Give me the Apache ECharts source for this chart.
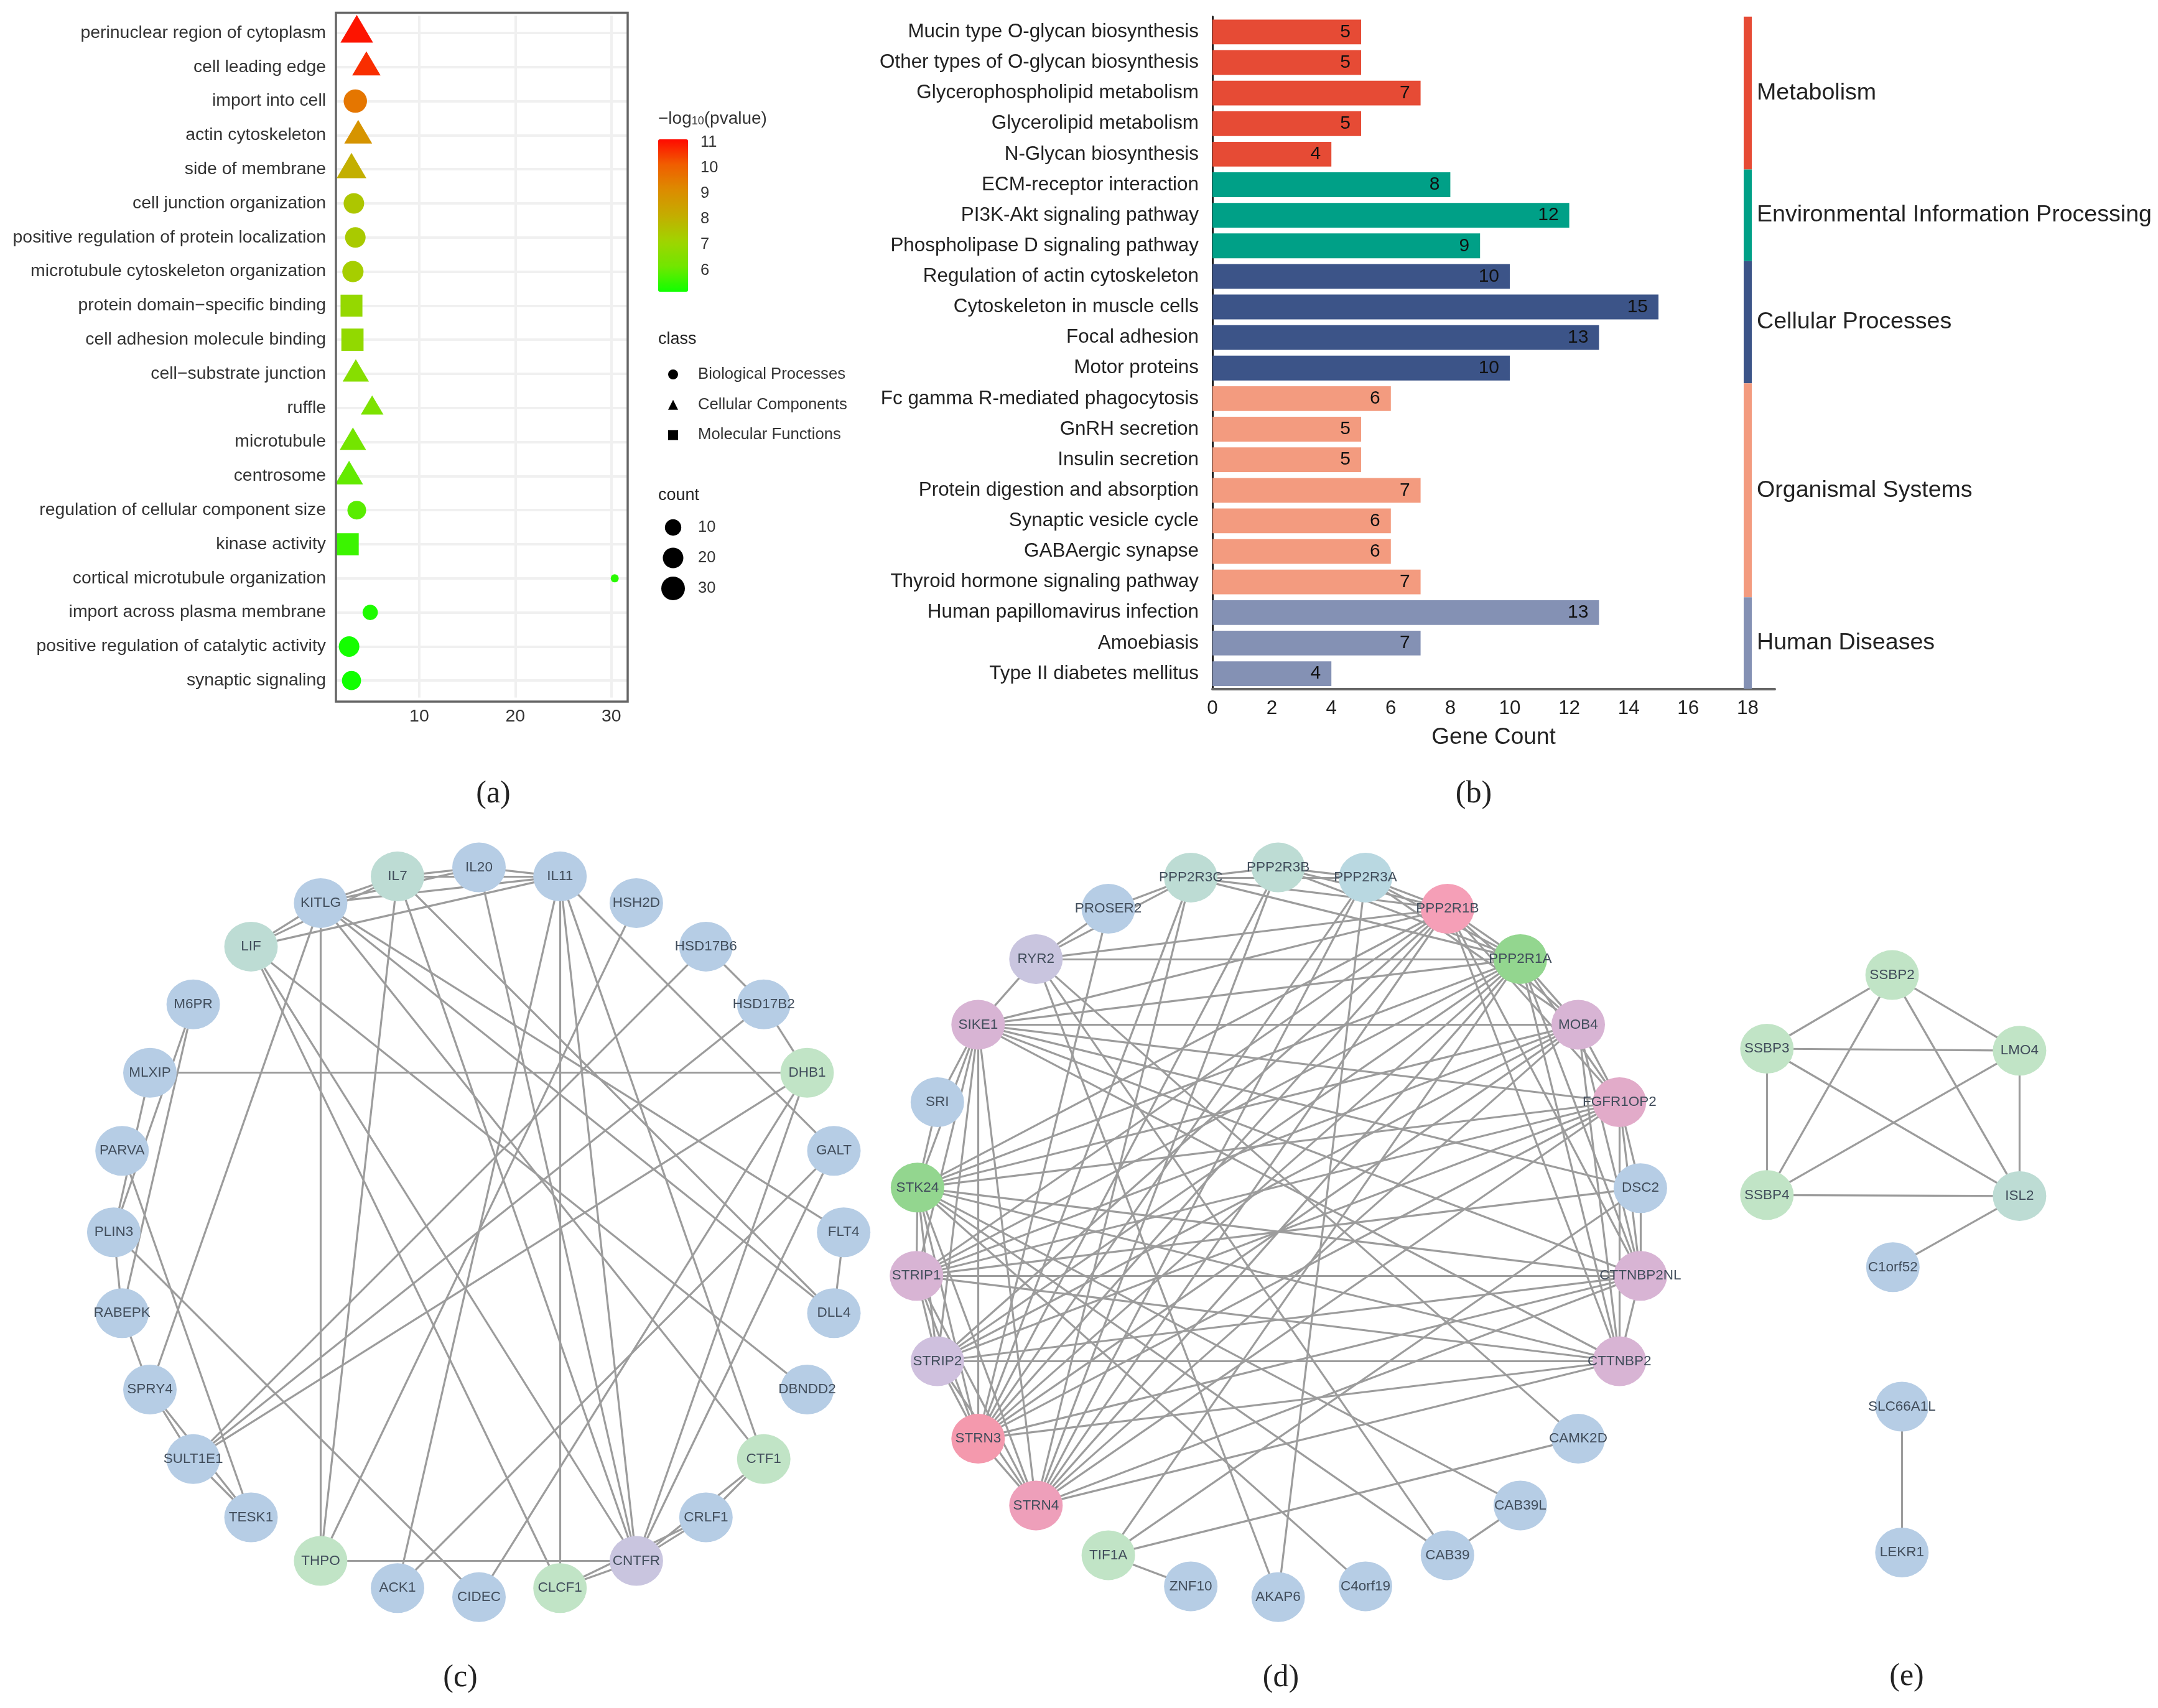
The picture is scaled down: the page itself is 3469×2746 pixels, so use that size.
<!DOCTYPE html>
<html><head><meta charset="utf-8">
<style>html,body{margin:0;padding:0;background:#fff}#c{width:3469px;height:2746px}</style>
<script src="https://cdn.jsdelivr.net/npm/echarts@6/dist/echarts.min.js"></script>
</head><body><div id="c"></div>
<script>
// ---------- panel (a) data ----------
const aTerms = ["perinuclear region of cytoplasm","cell leading edge","import into cell","actin cytoskeleton","side of membrane","cell junction organization","positive regulation of protein localization","microtubule cytoskeleton organization","protein domain\u2212specific binding","cell adhesion molecule binding","cell\u2212substrate junction","ruffle","microtubule","centrosome","regulation of cellular component size","kinase activity","cortical microtubule organization","import across plasma membrane","positive regulation of catalytic activity","synaptic signaling"];
const aClass = ["C","C","B","C","C","B","B","B","M","M","C","C","C","C","B","M","B","B","B","B"];
const aX = [3.5,4.5,3.35,3.65,2.95,3.2,3.35,3.1,2.95,3.05,3.4,5.1,3.1,2.7,3.5,2.55,30.35,4.9,2.7,2.95];
const aP = [11,10.7,9.6,8.9,8.1,7.5,7.4,7.3,6.9,6.85,6.6,6.4,6.2,6.0,5.9,5.6,5.4,5.3,5.2,5.16];
const aCount = [30,20,29,19,23,20,20,22,24,25,16,10,16,19,15,25,2,8,20,16];
const aCountLegend = [10,20,30];
const aXTicks = [10,20,30];
const aPTicks = [6,7,8,9,10,11];
// ---------- panel (b) data ----------
const bTerms = ["Mucin type O-glycan biosynthesis","Other types of O-glycan biosynthesis","Glycerophospholipid metabolism","Glycerolipid metabolism","N-Glycan biosynthesis","ECM-receptor interaction","PI3K-Akt signaling pathway","Phospholipase D signaling pathway","Regulation of actin cytoskeleton","Cytoskeleton in muscle cells","Focal adhesion","Motor proteins","Fc gamma R-mediated phagocytosis","GnRH secretion","Insulin secretion","Protein digestion and absorption","Synaptic vesicle cycle","GABAergic synapse","Thyroid hormone signaling pathway","Human papillomavirus infection","Amoebiasis","Type II diabetes mellitus"];
const bValues = [5,5,7,5,4,8,12,9,10,15,13,10,6,5,5,7,6,6,7,13,7,4];
const bGroups = ["Metabolism","Environmental Information Processing","Cellular Processes","Organismal Systems","Human Diseases"];
const bGroupSizes = [5,3,4,7,3];
const bXTicks = [0,2,4,6,8,10,12,14,16,18];
// ---------- network panels: node names, layout coordinates, colour group, edges ----------
const cNames = ["KITLG","IL7","IL20","IL11","HSH2D","HSD17B6","HSD17B2","DHB1","GALT","FLT4","DLL4","DBNDD2","CTF1","CRLF1","CNTFR","CLCF1","CIDEC","ACK1","THPO","TESK1","SULT1E1","SPRY4","RABEPK","PLIN3","PARVA","MLXIP","M6PR","LIF"];
const cX = [515.4,639,770,900.2,1022.9,1134.8,1227.7,1297.4,1340.5,1356.2,1340.5,1297.4,1227.7,1134.8,1022.9,900.2,770,639,515.4,403.5,310.6,241,196.2,182.9,196.2,241,310.6,403.5];
const cY = [1451.9,1409.1,1394.6,1409.1,1451.9,1521.9,1614.7,1724.7,1850.2,1981.2,2111.2,2234,2345.8,2439.5,2509.5,2553.2,2567.7,2553.2,2509.5,2439.5,2345.8,2234,2111.2,1981.2,1850.2,1724.7,1614.7,1521.9];
const cKind = ["blue","teal","blue","blue","blue","blue","blue","green","blue","blue","blue","blue","green","blue","lilac","green","blue","blue","green","blue","blue","blue","blue","blue","blue","blue","blue","teal"];
const cEdges = ["KITLG-IL7","KITLG-IL20","KITLG-IL11","LIF-KITLG","LIF-IL7","LIF-IL11","IL7-IL20","IL7-IL11","IL20-IL11","KITLG-THPO","IL7-THPO","KITLG-SPRY4","KITLG-FLT4","KITLG-DLL4","KITLG-CTF1","IL7-DLL4","IL7-CNTFR","IL20-CNTFR","IL11-CNTFR","IL11-CLCF1","IL11-ACK1","IL11-CTF1","IL11-GALT","LIF-CNTFR","LIF-CLCF1","LIF-DBNDD2","HSH2D-THPO","HSD17B6-SULT1E1","HSD17B6-HSD17B2","HSD17B2-DHB1","HSD17B2-SULT1E1","DHB1-SULT1E1","DHB1-MLXIP","DHB1-CNTFR","DHB1-CIDEC","GALT-CNTFR","GALT-ACK1","FLT4-DLL4","CTF1-CRLF1","CTF1-CNTFR","CRLF1-CNTFR","CLCF1-CNTFR","THPO-CNTFR","CLCF1-CRLF1","M6PR-PLIN3","M6PR-RABEPK","PARVA-TESK1","PLIN3-CIDEC","PLIN3-RABEPK","RABEPK-SPRY4","SPRY4-SULT1E1","SPRY4-TESK1","SULT1E1-TESK1","MLXIP-PLIN3"];
const dNames = ["PPP2R3B","PPP2R3A","PPP2R1B","PPP2R1A","MOB4","FGFR1OP2","DSC2","CTTNBP2NL","CTTNBP2","CAMK2D","CAB39L","CAB39","C4orf19","AKAP6","ZNF10","TIF1A","STRN4","STRN3","STRIP2","STRIP1","STK24","SRI","SIKE1","RYR2","PROSER2","PPP2R3C"];
const dX = [2054.6,2195,2326.8,2443.9,2537,2603.3,2636.9,2636.9,2603.3,2537,2443.9,2326.8,2195,2054.6,1914.2,1781.6,1665.3,1572.3,1506.8,1473.2,1474.9,1506.8,1572.3,1665.3,1781.6,1914.2];
const dY = [1394.6,1410.9,1461,1541.9,1647.4,1772,1910.2,2051.2,2188.5,2313.1,2420.4,2500.4,2550.4,2567.7,2550.4,2500.4,2420.4,2313.1,2188.5,2051.2,1909.3,1772,1647.4,1541.9,1461,1410.9];
const dKind = ["teal","aqua","rose","lime","orchid","pinkish","blue","orchid","orchid","blue","blue","blue","blue","blue","blue","green","rose2","rose3","plum","orchid","lime","blue","orchid","lilac","blue","teal"];
const dClique = ["PPP2R1A","PPP2R1B","MOB4","FGFR1OP2","CTTNBP2NL","CTTNBP2","STRN3","STRN4","STRIP1","STRIP2","STK24","SIKE1"];
const dEdges = ["PPP2R3C-PPP2R3B","PPP2R3B-PPP2R3A","PPP2R3C-PPP2R3A","PPP2R3C-PPP2R1B","PPP2R3B-PPP2R1B","PPP2R3A-PPP2R1B","PPP2R3C-PPP2R1A","PPP2R3B-PPP2R1A","PPP2R3A-PPP2R1A","PPP2R3C-STRN3","PPP2R3C-STRN4","PPP2R3B-STRN3","PPP2R3B-STRN4","PPP2R3A-STRN3","PPP2R3A-STRN4","PPP2R3A-AKAP6","PPP2R3A-MOB4","PROSER2-PPP2R3C","PROSER2-RYR2","PROSER2-STRN3","RYR2-PPP2R1A","RYR2-PPP2R1B","RYR2-PPP2R3C","RYR2-SIKE1","RYR2-AKAP6","RYR2-CAB39","RYR2-CAMK2D","SRI-SIKE1","SRI-STK24","SIKE1-DSC2","STK24-C4orf19","STK24-CAB39","STK24-CAB39L","STRIP1-DSC2","TIF1A-CAMK2D","TIF1A-ZNF10","TIF1A-DSC2","TIF1A-PPP2R1A","CAB39-CAB39L","FGFR1OP2-DSC2","DSC2-CTTNBP2NL"];
const eNames = ["SSBP2","SSBP3","LMO4","SSBP4","ISL2","C1orf52","SLC66A1L","LEKR1"];
const eX = [3041.6,2840.3,3246.4,2840.3,3246.4,3042.8,3057.3,3057.3];
const eY = [1567.6,1686,1689.2,1921.3,1922.9,2037.3,2261.5,2496];
const eKind = ["green","green","green","green","teal","blue","blue","blue"];
const eEdges = ["SSBP2-SSBP3","SSBP2-SSBP4","SSBP2-LMO4","SSBP2-ISL2","SSBP3-LMO4","SSBP3-ISL2","SSBP3-SSBP4","SSBP4-LMO4","SSBP4-ISL2","LMO4-ISL2","ISL2-C1orf52","SLC66A1L-LEKR1"];

// ---------- styles ----------
const FONT = '"Liberation Sans",Arial,sans-serif';
const bColors = ['#E64B35','#00A087','#3C5488','#F39B7F','#8491B4'];
const nodePalette = {blue:'#b6cde5',teal:'#bddcd4',green:'#c1e4c6',lilac:'#c9c5df',aqua:'#b9d8e1',rose:'#f59fb7',rose2:'#ee9fba',rose3:'#f499ad',lime:'#93d68f',orchid:'#d8b4d4',pinkish:'#e2abc9',plum:'#cfc0de'};
const ELLIPSE = 'path://M0,50a50,50 0 1,0 100,0a50,50 0 1,0 -100,0z';
const groupOfBar = [];
bGroupSizes.forEach((n,g)=>{for(let i=0;i<n;i++)groupOfBar.push(g);});
const dotSize = c => 13 + 25*Math.sqrt((c-2)/28);
function scatterOf(cls, name, symbol, mult){
  const rows = aTerms.map((t,i)=>[aX[i],t,aP[i],aCount[i]]).filter((r,i)=>aClass[i]===cls);
  const s = {type:'scatter',name,symbol,xAxisIndex:0,yAxisIndex:0,data:rows,encode:{x:0,y:1},clip:false,silent:true,
    itemStyle:{opacity:1},
    symbolSize: v => symbol==='triangle' ? [dotSize(v[3])*mult, dotSize(v[3])*mult*0.85] : dotSize(v[3])*mult};
  if(symbol==='triangle') s.symbolOffset=[0,'-15%'];
  return s;
}
function network(names,xs,ys,kinds,edges){
  return {type:'graph',coordinateSystem:'cartesian2d',xAxisIndex:5,yAxisIndex:5,layout:'none',silent:true,
    symbol:ELLIPSE,symbolSize:[86,80],roam:false,
    label:{show:true,position:'inside',fontFamily:FONT,fontSize:22.5,color:'#414d5b'},
    lineStyle:{color:'#9c9c9c',width:3.2,opacity:1,curveness:0},
    data:names.map((n,i)=>({name:n,value:[xs[i],ys[i]],itemStyle:{color:nodePalette[kinds[i]]}})),
    links:edges.map(e=>{const [source,target]=e.split('-');return {source,target};})};
}
const dAll = dEdges.slice();
dClique.forEach((a,i)=>dClique.slice(i+1).forEach(b=>dAll.push(a+'-'+b)));

function txt(x,y,text,font,align){
  return {type:'text',x,y,z:50,style:{text,font,fill:'#222',textAlign:align||'left',textVerticalAlign:'middle'}};
}
const caption = '50px "Liberation Serif",serif';
const option = {
  backgroundColor:'#fff',animation:false,textStyle:{fontFamily:FONT},
  grid:[
    {left:540,width:469,top:25.6,height:1096},
    {left:1058,width:48,top:224,height:245},
    {left:1062,width:40,top:823.5,height:147},
    {left:1949,width:904,top:26.8,height:1080.8},
    {left:2803,width:13,top:26.8,height:1080.8},
    {left:0,top:0,width:3469,height:2746}
  ],
  xAxis:[
    {gridIndex:0,type:'value',min:1.33,max:31.7,interval:5,offset:6.4,
      axisLine:{show:false},axisTick:{customValues:aXTicks,length:8,lineStyle:{color:'#333',width:2}},
      axisLabel:{customValues:aXTicks,margin:10,fontSize:28.4,color:'#333'},
      splitLine:{show:true,lineStyle:{color:'#f0f0f0',width:4}}},
    {gridIndex:1,type:'value',show:false,min:0,max:1},
    {gridIndex:2,type:'value',show:false,min:0,max:1},
    {gridIndex:3,type:'value',min:0,max:18.912,interval:2,
      axisLine:{show:true,lineStyle:{color:'#666',width:4}},
      axisTick:{customValues:bXTicks,length:12,lineStyle:{color:'#333',width:2}},
      axisLabel:{customValues:bXTicks,margin:16,fontSize:31.4,color:'#222'},
      splitLine:{show:false},
      name:'Gene Count',nameLocation:'middle',nameGap:60,nameTextStyle:{fontSize:37,color:'#222'}},
    {gridIndex:4,type:'category',show:false,data:['group']},
    {gridIndex:5,type:'value',show:false,min:0,max:3469}
  ],
  yAxis:[
    {gridIndex:0,type:'category',inverse:true,data:aTerms,
      axisLine:{show:false},axisTick:{alignWithLabel:true,length:10,lineStyle:{color:'#333',width:2}},
      axisLabel:{interval:0,margin:16,fontSize:28.4,color:'#333',padding:[8,0,0,0]},
      splitLine:{show:true,alignWithLabel:true,interval:0,lineStyle:{color:'#f0f0f0',width:4}}},
    {gridIndex:1,type:'value',position:'right',min:5.16,max:11.12,z:10,
      axisLine:{show:false},axisTick:{inside:true,customValues:aPTicks,length:10,lineStyle:{color:'rgba(255,255,255,0.75)',width:2}},
      axisLabel:{customValues:aPTicks,margin:20,fontSize:25.5,color:'#333'},splitLine:{show:false}},
    {gridIndex:2,type:'category',position:'right',inverse:true,data:aCountLegend.map(String),
      axisLine:{show:false},axisTick:{show:false},axisLabel:{margin:20,fontSize:25.5,color:'#333'}},
    {gridIndex:3,type:'category',inverse:true,data:bTerms,
      axisLine:{show:true,lineStyle:{color:'#222',width:3}},
      axisTick:{alignWithLabel:true,length:12,lineStyle:{color:'#333',width:2}},
      axisLabel:{interval:0,margin:22,fontSize:31.4,color:'#222',padding:[8,0,0,0]},splitLine:{show:false}},
    {gridIndex:4,type:'value',inverse:true,show:false,min:0,max:22},
    {gridIndex:5,type:'value',show:false,inverse:true,min:0,max:2746}
  ],
  visualMap:[{type:'continuous',seriesIndex:[0,1,2],dimension:2,min:5.16,max:11.12,
    left:1058,top:224,itemWidth:48,itemHeight:245,padding:0,calculable:false,hoverLink:false,
    inRange:{color:['#10ff00','#72e600','#a0d400','#c4ad00','#dc8c00','#f05e00','#ff0a00']}}],
  legend:[{orient:'vertical',left:1074,top:589,itemWidth:16,itemHeight:16,itemGap:22.7,padding:0,selectedMode:false,
    textStyle:{fontSize:25.7,color:'#333',padding:[0,0,0,27]},
    data:[{name:'Biological Processes',icon:'circle',itemStyle:{color:'#000'}},
          {name:'Cellular Components',icon:'triangle',itemStyle:{color:'#000'}},
          {name:'Molecular Functions',icon:'rect',itemStyle:{color:'#000'}}]}],
  graphic:[
    {type:'rect',shape:{x:540,y:20.5,width:469,height:1107.5},z:40,style:{fill:'none',stroke:'#666',lineWidth:3.5}},
    {type:'text',x:1058,y:191,z:50,style:{text:'{a|\u2212log}{b|10}{a|(pvalue)}',textVerticalAlign:'middle',
      rich:{a:{font:'28px '+FONT,fill:'#333',color:'#333'},b:{font:'18px '+FONT,fill:'#333',color:'#333',padding:[9,0,0,0]}}}},
    txt(1058,546,'class','27px '+FONT),
    txt(1058,797,'count','27px '+FONT),
    txt(793,1277,'(a)',caption,'center'),
    txt(2369,1277,'(b)',caption,'center'),
    txt(740,2698,'(c)',caption,'center'),
    txt(2059,2698,'(d)',caption,'center'),
    txt(3065,2696,'(e)',caption,'center')
  ],
  series:[
    scatterOf('B','Biological Processes','circle',1),
    scatterOf('C','Cellular Components','triangle',1.38),
    scatterOf('M','Molecular Functions','rect',1),
    {type:'scatter',xAxisIndex:2,yAxisIndex:2,silent:true,itemStyle:{color:'#000',opacity:1},
      data:aCountLegend.map(c=>[0.5,String(c),c]),encode:{x:0,y:1},symbolSize:v=>dotSize(v[2])},
    {type:'bar',xAxisIndex:3,yAxisIndex:3,barWidth:'81%',silent:true,data:bValues,
      itemStyle:{color:p=>bColors[groupOfBar[p.dataIndex]]},
      label:{show:true,position:'insideRight',distance:17,fontSize:30,color:'#111'}},
    ...bGroups.map((g,i)=>({type:'bar',name:g,xAxisIndex:4,yAxisIndex:4,stack:'groups',barWidth:13,silent:true,
      data:[bGroupSizes[i]],itemStyle:{color:bColors[i]},
      label:{show:true,position:'right',distance:8,formatter:'{a}',fontSize:37.6,color:'#222'}})),
    network(cNames,cX,cY,cKind,cEdges),
    network(dNames,dX,dY,dKind,dAll),
    network(eNames,eX,eY,eKind,eEdges)
  ]
};
const chart = echarts.init(document.getElementById('c'),null,{renderer:'canvas'});
chart.setOption(option);
</script></body></html>
